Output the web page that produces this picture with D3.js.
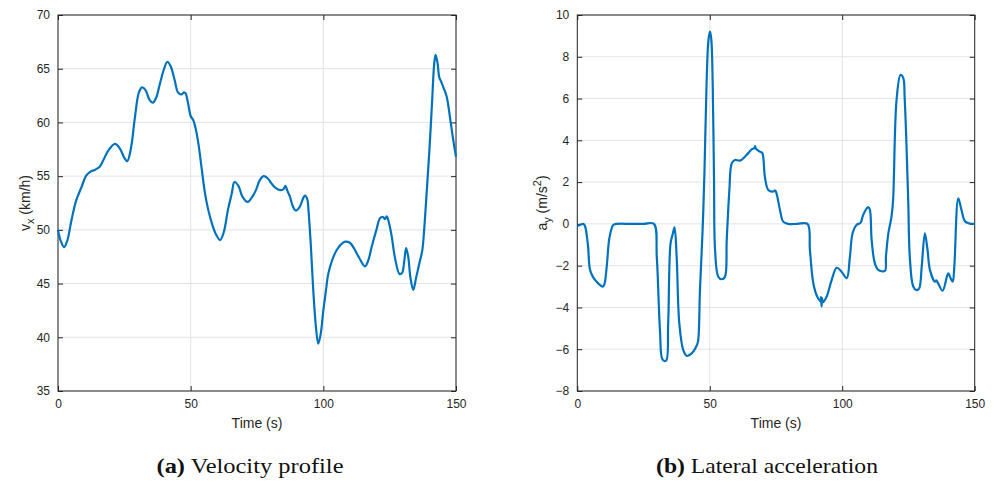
<!DOCTYPE html>
<html><head><meta charset="utf-8">
<script src="https://cdn.jsdelivr.net/npm/d3@7"></script>
<style>body{margin:0;background:#fff}</style>
</head><body>
<svg id="c" width="993" height="483"></svg>
<script>
// ---- data ----
const velT = [0,1,2.3,3.5,5,6.8,8.9,10.5,12.1,14,15.8,17.1,19,21.5,23.5,25,26.1,27.5,29,30.5,31.7,33,34.5,35.7,37,38.5,40,41.2,42.5,44,45.2,46.5,47.5,48.1,49,50,51,52,52.9,54,55.4,56.5,58,59.5,61.1,62.5,64,65.5,66.5,68,69.5,71.5,73,74.6,76,77.5,79,80.5,82,83.7,85,85.7,86.5,87.4,88.5,89.6,91,92.5,93.1,94,94.4,95.3,96.2,97.2,98.1,99,100,101,101.9,103.5,105,106.5,108.2,110,111.5,113.5,115.7,117,118.2,120,121.4,122.5,123.2,123.9,124.8,125.8,127,128.7,129.7,130.5,131.2,132,132.8,133.9,135,136.3,137.3,138,139,140,141,141.8,142.3,143,143.7,144.4,145.5,146.5,148,149,150];
const velV = [50.0,49.0,48.4,49.0,50.8,52.7,54.0,55.0,55.4,55.6,55.9,56.5,57.4,58.0,57.5,56.7,56.4,57.6,60.5,62.8,63.27,63.0,62.1,61.83,62.3,63.7,65.0,65.65,65.2,63.9,62.8,62.6,62.8,62.7,61.8,60.6,60.2,59.3,58.05,56.0,53.4,52.0,50.6,49.6,49.05,49.8,51.8,53.4,54.45,54.1,53.1,52.6,53.0,53.7,54.6,55.0,54.8,54.3,53.9,53.7,53.8,54.1,53.6,53.1,52.2,51.8,52.1,53.0,53.2,52.8,51.85,48.5,44.4,41.0,39.4,40.3,42.5,44.4,45.95,47.3,48.1,48.6,48.9,48.8,48.3,47.4,46.6,47.2,48.4,50.0,51.1,51.2,51.0,51.25,50.6,49.35,47.4,45.9,46.0,47.1,48.3,47.5,45.6,44.4,45.6,47.0,48.1,50.0,53.7,57.5,62.0,65.5,66.3,65.6,64.2,63.8,63.1,62.4,60.0,58.3,56.8];

const accT = [0,1,2.3,2.9,4.0,4.8,6.0,7.9,9.6,10.2,11.1,12.0,13.0,13.6,15,20,25,28.9,30,31.2,32.2,33.5,34.3,35.2,36.0,36.7,37.5,38.5,40,41.3,43.2,45,45.6,46.3,47.3,48.0,48.8,49.5,50.1,50.6,51.1,51.6,52,53.2,54.5,55.7,56.4,57.4,58.3,59.5,61.4,63.9,65.8,66.8,67.1,67.4,68.9,69.8,70.8,72.1,74,74.7,75.2,76.5,77.7,79.6,83,86.9,87.8,89.1,90.6,91.8,92.0,92.2,92.4,92.7,94.1,96,97.9,99.8,101.7,102.9,103.9,105.4,106.9,107.9,109.8,110.4,111.1,112.3,113.6,116.1,116.5,117.4,118.6,119.2,120.5,122,123,123.6,124.9,125.5,126.8,128,129,130,131.2,132.2,133.1,135,135.5,136.2,137.9,140,140.9,141.7,142.3,143.8,145,146.3,148,150];
const accA = [-0.1,-0.05,0.0,-0.1,-1.0,-2.2,-2.56,-2.85,-3.0,-2.9,-2.05,-0.77,-0.2,-0.05,0,0,0,0,-1.57,-5.08,-6.5,-6.55,-4.76,-0.93,-0.5,-0.16,-1.57,-4.76,-6.04,-6.31,-6.2,-5.85,-5.6,-3.16,-0.27,2.5,6.73,8.8,9.2,8.8,6.73,2.2,-1.25,-2.53,-2.65,-2.55,-0.77,1.62,2.9,3.06,3.03,3.3,3.57,3.62,3.72,3.6,3.46,3.4,2.26,1.62,1.55,1.6,1.46,0.67,0.11,0,0,0,-1.25,-2.85,-3.49,-3.7,-3.5,-3.95,-3.55,-3.75,-3.49,-2.69,-2.1,-2.3,-2.6,-1.57,-0.45,-0.05,0.05,0.43,0.8,0.7,-0.77,-1.88,-2.2,-2.25,-1.57,-0.45,0.35,1.14,5.93,7.13,7.0,5.93,1.14,-1.57,-3.0,-3.17,-3.1,-2.05,-0.45,-1.25,-2.2,-2.77,-2.7,-2.85,-3.2,-2.37,-2.6,-2.77,-2.05,1.22,0.67,0.13,0.02,0];

const xTicks = [0,50,100,150];
const velTicks = [35,40,45,50,55,60,65,70];
const accTicks = [-8,-6,-4,-2,0,2,4,6,8,10];

// ---- drawing ----
const svg = d3.select("#c");
const tickColor = "#262626";
const font = "Liberation Sans, Arial, sans-serif";

function panel(x0, x1, y0, y1, yDom, yTicks, tArr, vArr, ylab, ysub, yrest, caption, capRest, capX, capW, ylabX){
  const x = d3.scaleLinear().domain([0,150]).range([x0,x1]);
  const y = d3.scaleLinear().domain(yDom).range([y1,y0]);
  const g = svg.append("g");
  // grid
  g.selectAll(".gx").data(xTicks).join("line")
    .attr("x1",d=>x(d)).attr("x2",d=>x(d)).attr("y1",y0).attr("y2",y1)
    .attr("stroke","#e3e3e3").attr("stroke-width",1);
  g.selectAll(".gy").data(yTicks).join("line")
    .attr("y1",d=>y(d)).attr("y2",d=>y(d)).attr("x1",x0).attr("x2",x1)
    .attr("stroke","#e3e3e3").attr("stroke-width",1);
  // axes
  const ax = d3.axisBottom(x).tickValues(xTicks).tickSize(-5).tickPadding(8);
  const axT = d3.axisTop(x).tickValues(xTicks).tickSize(-5).tickFormat("");
  const ay = d3.axisLeft(y).tickValues(yTicks).tickSize(-5).tickPadding(8);
  const ayR = d3.axisRight(y).tickValues(yTicks).tickSize(-5).tickFormat("");
  const style = s => { s.selectAll("path,line").attr("stroke",tickColor); s.selectAll("text").attr("fill",tickColor).style("font-family",font).style("font-size","12px"); };
  g.append("g").attr("transform",`translate(0,${y1})`).call(ax).call(style).call(s=>s.select(".domain").remove());
  g.append("g").attr("transform",`translate(0,${y0})`).call(axT).call(style).call(s=>s.select(".domain").remove());
  g.append("g").attr("transform",`translate(${x0},0)`).call(ay).call(style).call(s=>s.select(".domain").remove());
  g.append("g").attr("transform",`translate(${x1},0)`).call(ayR).call(style).call(s=>s.select(".domain").remove());
  g.append("rect").attr("x",x0).attr("y",y0).attr("width",x1-x0).attr("height",y1-y0)
    .attr("fill","none").attr("stroke",tickColor).attr("stroke-width",1);
  // line
  const pts = tArr.map((t,i)=>[t,vArr[i]]);
  g.append("path").datum(pts)
    .attr("d", d3.line().x(d=>x(d[0])).y(d=>y(d[1])).curve(d3.curveCatmullRom.alpha(0.5)))
    .attr("fill","none").attr("stroke","#0072BD").attr("stroke-width",2.2).attr("stroke-linejoin","round");
  // x label
  g.append("text").attr("x",(x0+x1)/2).attr("y",y1+37).attr("text-anchor","middle")
    .attr("fill",tickColor).style("font-family",font).style("font-size","14px").text("Time (s)");
  // y label
  const yl = g.append("text").attr("transform",`translate(${ylabX},${(y0+y1)/2}) rotate(-90)`)
    .attr("text-anchor","middle").attr("fill",tickColor).style("font-family",font).style("font-size","14px");
  yl.append("tspan").text(ylab);
  yl.append("tspan").attr("dy",4).style("font-size","11px").text(ysub);
  yl.append("tspan").attr("dy",-4).text(yrest[0]);
  if (yrest.length>1){
    yl.append("tspan").attr("dy",-6).style("font-size","11px").text(yrest[1]);
    yl.append("tspan").attr("dy",6).text(yrest[2]);
  }
  // caption
  const c = svg.append("text").attr("x",capX).attr("y",473).attr("text-anchor","middle")
    .attr("textLength",capW).attr("lengthAdjust","spacingAndGlyphs")
    .attr("fill","#111").style("font-family","Liberation Serif, 'DejaVu Serif', serif").style("font-size","22px");
  c.append("tspan").style("font-weight","bold").text(caption);
  c.append("tspan").text(capRest);
}

panel(58,456,15,391,[35,70],velTicks,velT,velV,"v","x",[" (km/h)"],"(a)"," Velocity profile",250,187,30);
panel(577.3,974.7,15,391,[-8,10],accTicks,accT,accA,"a","y",[" (m/s","2",")"],"(b)"," Lateral acceleration",767,222,547);
</script>
</body></html>
